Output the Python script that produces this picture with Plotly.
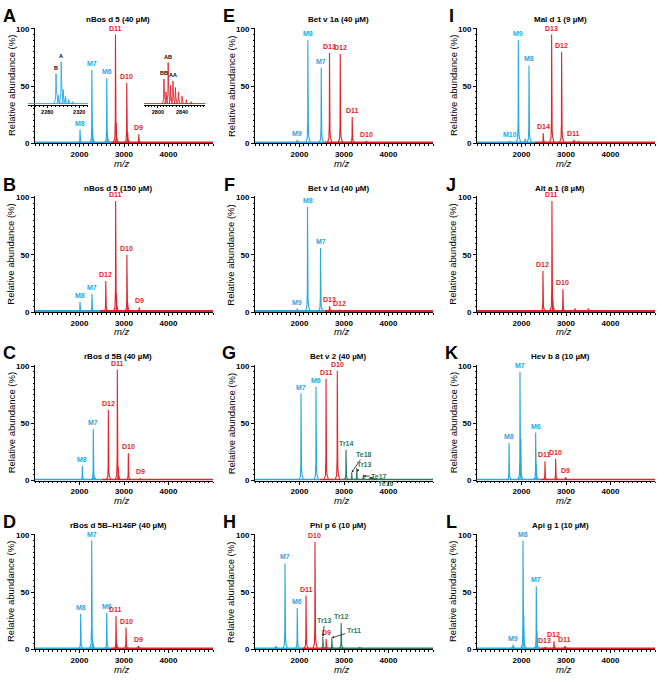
import plotly.graph_objects as go

# =========================
# DATA
# =========================
TITLES = [
    "nBos d 5 (40 µM)", "nBos d 5 (150 µM)", "rBos d 5B (40 µM)", "rBos d 5B–H146P (40 µM)",
    "Bet v 1a (40 µM)", "Bet v 1d (40 µM)", "Bet v 2 (40 µM)", "Phl p 6 (10 µM)",
    "Mal d 1 (9 µM)", "Alt a 1 (8 µM)", "Hev b 8 (10 µM)", "Api g 1 (10 µM)",
]
LETTERS = list("ABCDEFGHIJKL")

# peaks: (m/z, relative abundance %, label); lowercase label = unlabeled minor peak of that species
PEAKS_A = [(2011, 12, "M8"), (2278, 64, "M7"), (2292, 14, "m"), (2612, 57, "M6"), (2628, 8, "m"),
           (2808, 95, "D11"), (2825, 18, "d"), (3062, 53, "D10"), (3080, 10, "d"), (3332, 8, "D9")]
PEAKS_B = [(2011, 9, "M8"), (2280, 16, "M7"), (2590, 27, "D12"), (2812, 97, "D11"), (2830, 16, "d"),
           (3065, 50, "D10"), (3082, 8, "d"), (3340, 4, "D9")]
PEAKS_C = [(2063, 13, "M8"), (2310, 45, "M7"), (2325, 4, "m"), (2648, 62, "D12"), (2850, 97, "D11"),
           (2868, 12, "d"), (3097, 24, "D10"), (3360, 2, "D9")]
PEAKS_D = [(2026, 31, "M8"), (2274, 95, "M7"), (2292, 11, "m"), (2611, 32, "M6"), (2820, 29, "D11"),
           (2835, 6, "d"), (3045, 19, "D10"), (3321, 3, "D9")]
PEAKS_E = [(1948, 3, "M9"), (2188, 90, "M8"), (2488, 66, "M7"), (2674, 79, "D13"), (2915, 78, "D12"),
           (3184, 23, "D11"), (3499, 2, "D10")]
PEAKS_F = [(1950, 3, "M9"), (2180, 92, "M8"), (2472, 56, "M7"), (2674, 5, "D13"), (2900, 2, "D12")]
PEAKS_G = [(2034, 76, "M7"), (2371, 82, "M6"), (2596, 89, "D11"), (2849, 96, "D10"), (3045, 27, "Tr14"),
           (3173, 7, "Te18"), (3285, 11, "Tr13"), (3434, 5, "Te17"), (3584, 3, "Te16")]
PEAKS_H = [(1470, 3, "m"), (1674, 75, "M7"), (1949, 36, "M6"), (2146, 47, "D11"), (2348, 94, "D10"),
           (2524, 11, "Tr13"), (2600, 9, "D9"), (2726, 10, "Tr11"), (2936, 23, "Tr12"), (3350, 2, "t")]
PEAKS_I = [(1735, 2, "M10"), (1928, 90, "M9"), (2080, 4, "m"), (2168, 68, "M8"), (2488, 9, "D14"),
           (2677, 95, "D13"), (2901, 80, "D12"), (3177, 3, "D11"), (3280, 2, "d")]
PEAKS_J = [(2482, 36, "D12"), (2684, 97, "D11"), (2700, 12, "d"), (2930, 20, "D10"), (3200, 3, "d"),
           (3500, 3, "d")]
PEAKS_K = [(1200, 1, "m"), (1720, 33, "M8"), (1966, 95, "M7"), (1985, 37, "m"), (2318, 42, "M6"),
           (2332, 14, "m"), (2527, 17, "D11"), (2767, 19, "D10"), (2991, 3, "D9")]
PEAKS_L = [(1810, 4, "M9"), (2034, 95, "M8"), (2050, 30, "m"), (2332, 55, "M7"), (2348, 16, "m"),
           (2527, 2, "D13"), (2729, 7, "D12"), (2975, 3, "D11")]

# baseline colour segments: (start m/z, end m/z, species)
SEG_A = [(1000, 2700, "m"), (2700, 5000, "d")]
SEG_B = [(1000, 2450, "m"), (2450, 5000, "d")]
SEG_C = [(1000, 2500, "m"), (2500, 5000, "d")]
SEG_D = [(1000, 2700, "m"), (2700, 5000, "d")]
SEG_E = [(1000, 2560, "m"), (2560, 5000, "d")]
SEG_F = [(1000, 2560, "m"), (2560, 5000, "d")]
SEG_G = [(1000, 2450, "m"), (2450, 2950, "d"), (2950, 5000, "t")]
SEG_H = [(1000, 2050, "m"), (2050, 2650, "d"), (2650, 5000, "t")]
SEG_I = [(1000, 2300, "m"), (2300, 5000, "d")]
SEG_J = [(1000, 5000, "d")]
SEG_K = [(1000, 2420, "m"), (2420, 5000, "d")]
SEG_L = [(1000, 2420, "m"), (2420, 5000, "d")]

PEAKS = [PEAKS_A, PEAKS_B, PEAKS_C, PEAKS_D, PEAKS_E, PEAKS_F,
         PEAKS_G, PEAKS_H, PEAKS_I, PEAKS_J, PEAKS_K, PEAKS_L]
SEGS = [SEG_A, SEG_B, SEG_C, SEG_D, SEG_E, SEG_F, SEG_G, SEG_H, SEG_I, SEG_J, SEG_K, SEG_L]

# insets of panel A (normalised intensity)
INSET1_PEAKS = [(2291, 0.72, "B"), (2294, 0.22, ""), (2297.5, 1.0, "A"), (2300, 0.35, ""),
                (2303, 0.2, ""), (2307, 0.12, ""), (2312, 0.07, "")]
INSET2_PEAKS = [(2810, 0.6, "BB"), (2813.5, 0.3, ""), (2817, 0.98, "AB"), (2821, 0.45, ""),
                (2825, 0.55, "AA"), (2829, 0.4, ""), (2834, 0.3, ""), (2840, 0.2, ""),
                (2847, 0.12, ""), (2855, 0.07, "")]
INSET1_RANGE, INSET1_TICKS = [2256, 2331], [2280, 2320]
INSET2_RANGE, INSET2_TICKS = [2777, 2878], [2800, 2840]

# arrowed labels: label, m/z, abundance, text offset px
ARROWS_G = [("Te18", 3173, 7, 12, -18), ("Tr13", 3285, 8, 8, -7), ("Te17", 3434, 4, 16, 0),
            ("Te16", 3584, 3, 16, 6)]
ARROWS_H = [("Tr13", 2524, 11, 2, -16), ("Tr11", 2726, 10, 22, -7)]

# =========================
# STYLE
# =========================
W, H = 661, 681
FONT = "Liberation Sans, Arial, sans-serif"
COLORS = {"m": "#27A9E1", "d": "#E3242B", "t": "#2E7A5E"}
BASE = 0.9
PEAK_DX = [-45, -14, -4, 0, 4, 12, 22, 55]
PEAK_FR = [0, 0.04, 0.2, 1, 0.35, 0.12, 0.05, 0]
COL_X = [35, 255, 477]
ROW_Y = [26, 196.7, 367.3, 538]
PW, PH = 178, 116


def px(x):
    return x / W


def py(y):
    return 1 - y / H


def species(lbl):
    return lbl[0].lower() if lbl else "m"


fig = go.Figure()
annotations = []
arrowed = {7: ARROWS_G, 8: ARROWS_H}

for i in range(12):
    col, row = i // 4, i % 4
    n = i + 1
    x0, y0 = COL_X[col], ROW_Y[row]

    # baseline
    for s0, s1, sp in SEGS[i]:
        fig.add_trace(go.Scatter(
            x=[s0, s1], y=[BASE, BASE], mode="lines", xaxis=f"x{n}", yaxis=f"y{n}",
            line=dict(color=COLORS[sp], width=1.8), hoverinfo="skip", showlegend=False))

    # peaks
    xs = {"m": [], "d": [], "t": []}
    ys = {"m": [], "d": [], "t": []}
    for mz, h, lbl in PEAKS[i]:
        sp = species(lbl)
        xs[sp] += [mz + d for d in PEAK_DX] + [None]
        ys[sp] += [BASE + f * (h - BASE) for f in PEAK_FR] + [None]
    for sp in ["m", "d", "t"]:
        if xs[sp]:
            fig.add_trace(go.Scatter(
                x=xs[sp], y=ys[sp], mode="lines", xaxis=f"x{n}", yaxis=f"y{n}",
                line=dict(color=COLORS[sp], width=1.1), hoverinfo="skip", showlegend=False))

    fig.layout[f"xaxis{n}"] = dict(
        domain=[px(x0), px(x0 + PW)], anchor=f"y{n}", range=[1000, 5000],
        tickmode="array", tickvals=[2000, 3000, 4000], ticks="outside", ticklen=3,
        tickcolor="black", showline=True, linecolor="black", linewidth=1, showgrid=False,
        zeroline=False, tickfont=dict(family=FONT, size=8, color="black", weight="bold"),
        minor=dict(tick0=1000, dtick=100, ticks="outside", ticklen=1.5, tickcolor="black"),
    )
    fig.layout[f"yaxis{n}"] = dict(
        domain=[py(y0 + PH), py(y0 - 1)], anchor=f"x{n}", range=[0, 101],
        tickmode="array", tickvals=[0, 50, 100], ticks="outside", ticklen=3,
        tickcolor="black", showline=True, linecolor="black", linewidth=1, showgrid=False,
        zeroline=False, tickfont=dict(family=FONT, size=8, color="black", weight="bold"),
        minor=dict(tick0=0, dtick=5, ticks="outside", ticklen=1.5, tickcolor="black"),
    )

    # panel letter, title, axis titles
    annotations.append(dict(text=f"<b>{LETTERS[i]}</b>", x=px(x0 - 26), y=py(y0 - 13), xref="paper",
                            yref="paper", xanchor="center", yanchor="middle", showarrow=False,
                            font=dict(family=FONT, size=18, color="black")))
    annotations.append(dict(text=TITLES[i], x=px(x0 + 83), y=py(y0 - 9.5), xref="paper", yref="paper",
                            xanchor="center", yanchor="middle", showarrow=False,
                            font=dict(family=FONT, size=8, color="black", weight="bold")))
    annotations.append(dict(text="<i>m/z</i>", x=px(x0 + 87), y=py(y0 + PH + 20), xref="paper",
                            yref="paper", xanchor="center", yanchor="middle", showarrow=False,
                            font=dict(family=FONT, size=9.5, color="black")))
    annotations.append(dict(text="Relative abundance (%)", x=px(x0 - 24), y=py(y0 + PH / 2),
                            xref="paper", yref="paper", xanchor="center", yanchor="middle",
                            textangle=-90, showarrow=False,
                            font=dict(family=FONT, size=9.5, color="black")))

    # peak labels
    skip = [a[0] for a in arrowed.get(n, [])]
    for mz, h, lbl in PEAKS[i]:
        if not lbl or lbl.islower() or lbl in skip:
            continue
        annotations.append(dict(text=lbl, x=mz, y=h, xref=f"x{n}", yref=f"y{n}", xanchor="center",
                                yanchor="bottom", yshift=1, showarrow=False,
                                font=dict(family=FONT, size=7, color=COLORS[species(lbl)],
                                          weight="bold")))

for n, items in arrowed.items():
    for lbl, mz, h, ax, ay in items:
        annotations.append(dict(text=lbl, x=mz, y=h, xref=f"x{n}", yref=f"y{n}", ax=ax, ay=ay,
                                showarrow=True, arrowhead=2, arrowsize=0.6, arrowwidth=0.8,
                                arrowcolor="#222", standoff=0,
                                font=dict(family=FONT, size=7, color=COLORS["t"], weight="bold")))

# insets in panel A
INSETS = [(13, INSET1_PEAKS, "m", INSET1_RANGE, INSET1_TICKS, 28, 88),
          (14, INSET2_PEAKS, "d", INSET2_RANGE, INSET2_TICKS, 144, 205)]
for n, peaks, sp, rng, tv, ix0, ix1 in INSETS:
    xs, ys = [rng[0], rng[1], None], [0.03, 0.03, None]
    for mz, h, lbl in peaks:
        xs += [mz - 2.2, mz - 0.5, mz, mz + 0.7, mz + 2.5, None]
        ys += [0.03, 0.25 * h, h, 0.45 * h, 0.03, None]
    fig.add_trace(go.Scatter(x=xs, y=ys, mode="lines", xaxis=f"x{n}", yaxis=f"y{n}",
                             line=dict(color=COLORS[sp], width=0.9), hoverinfo="skip",
                             showlegend=False))
    fig.layout[f"xaxis{n}"] = dict(
        domain=[px(ix0), px(ix1)], anchor=f"y{n}", range=rng, tickmode="array", tickvals=tv,
        ticks="outside", ticklen=2, tickcolor="black", showline=True, linecolor="black",
        linewidth=0.8, showgrid=False, zeroline=False,
        tickfont=dict(family=FONT, size=5.5, color="black", weight="bold"),
        minor=dict(tick0=tv[0], dtick=5, ticks="outside", ticklen=1, tickcolor="black"),
    )
    fig.layout[f"yaxis{n}"] = dict(domain=[py(103), py(55)], anchor=f"x{n}", range=[0, 1.1],
                                   visible=False)
    for mz, h, lbl in peaks:
        if lbl:
            annotations.append(dict(text=lbl, x=mz, y=h, xref=f"x{n}", yref=f"y{n}",
                                    yanchor="bottom", yshift=1, showarrow=False,
                                    font=dict(family=FONT, size=5.5, color="black", weight="bold")))

fig.update_layout(
    width=W, height=H, margin=dict(l=0, r=0, t=0, b=0),
    paper_bgcolor="white", plot_bgcolor="rgba(0,0,0,0)",
    showlegend=False, annotations=annotations,
)

fig.write_html("out.html", config={"displayModeBar": False},
               post_script="document.body.style.margin='0';")
